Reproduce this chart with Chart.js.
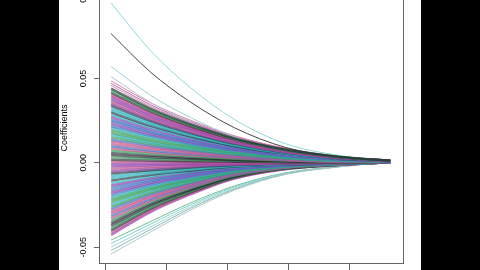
<!DOCTYPE html>
<html>
<head>
<meta charset="utf-8">
<script src="https://cdn.jsdelivr.net/npm/chart.js@4"></script>
<style>
  html, body { margin: 0; padding: 0; background: #000; width: 480px; height: 270px; overflow: hidden; }
  #frame { position: absolute; left: 59px; top: 0; width: 362px; height: 270px; background: #fff; overflow: hidden; }
  #box { position: absolute; left: 0; top: -20px; width: 362px; height: 323px; }
</style>
</head>
<body>
<div id="frame"><div id="box"><canvas id="grafico"></canvas></div></div>
<script>
const logLambda = [0.2, 1.5, 2.8, 4.25, 5.9, 7.7, 9.35];
const xTicks = [0, 2, 4, 6, 8];
const yTicks = [-0.05, 0, 0.05, 0.10];

// the few paths that stand apart above the band
const outerTop = [
  [0.0947, 0.0663, 0.0445, 0.0256, 0.0114, 0.0043, 0.0014],
  [0.0765, 0.0536, 0.0360, 0.0207, 0.0092, 0.0034, 0.0012],
  [0.0570, 0.0399, 0.0268, 0.0154, 0.0068, 0.0026, 0.0011],
  [0.0510, 0.0357, 0.0240, 0.0138, 0.0061, 0.0023, 0.0010],
  [0.0485, 0.0354, 0.0252, 0.0160, 0.0087, 0.0039, 0.0013],
  [0.0470, 0.0343, 0.0244, 0.0155, 0.0085, 0.0038, 0.0013],
  [0.0458, 0.0334, 0.0238, 0.0151, 0.0082, 0.0037, 0.0013]
];

// dense band, coefficients starting above zero
const densePos = [
  [0.0440, 0.0321, 0.0229, 0.0145, 0.0079, 0.0035, 0.0013],
  [0.0428, 0.0312, 0.0223, 0.0141, 0.0077, 0.0034, 0.0012],
  [0.0415, 0.0303, 0.0216, 0.0137, 0.0075, 0.0033, 0.0012],
  [0.0402, 0.0293, 0.0209, 0.0133, 0.0072, 0.0032, 0.0012],
  [0.0390, 0.0285, 0.0203, 0.0129, 0.0070, 0.0031, 0.0012],
  [0.0376, 0.0274, 0.0196, 0.0124, 0.0068, 0.0030, 0.0012],
  [0.0363, 0.0265, 0.0189, 0.0120, 0.0065, 0.0029, 0.0011],
  [0.0350, 0.0256, 0.0182, 0.0116, 0.0063, 0.0028, 0.0011],
  [0.0338, 0.0247, 0.0176, 0.0112, 0.0061, 0.0027, 0.0011],
  [0.0324, 0.0237, 0.0168, 0.0107, 0.0058, 0.0026, 0.0011],
  [0.0311, 0.0227, 0.0162, 0.0103, 0.0056, 0.0025, 0.0011],
  [0.0298, 0.0218, 0.0155, 0.0098, 0.0054, 0.0024, 0.0010],
  [0.0285, 0.0208, 0.0148, 0.0094, 0.0051, 0.0023, 0.0010],
  [0.0272, 0.0199, 0.0141, 0.0090, 0.0049, 0.0022, 0.0010],
  [0.0258, 0.0188, 0.0134, 0.0085, 0.0046, 0.0021, 0.0010],
  [0.0245, 0.0179, 0.0127, 0.0081, 0.0044, 0.0020, 0.0010],
  [0.0232, 0.0169, 0.0121, 0.0077, 0.0042, 0.0019, 0.0009],
  [0.0218, 0.0159, 0.0113, 0.0072, 0.0039, 0.0017, 0.0009],
  [0.0205, 0.0150, 0.0107, 0.0068, 0.0037, 0.0016, 0.0009],
  [0.0192, 0.0140, 0.0100, 0.0063, 0.0035, 0.0015, 0.0009],
  [0.0178, 0.0130, 0.0093, 0.0059, 0.0032, 0.0014, 0.0009],
  [0.0165, 0.0120, 0.0086, 0.0054, 0.0030, 0.0013, 0.0008],
  [0.0152, 0.0111, 0.0079, 0.0050, 0.0027, 0.0012, 0.0008],
  [0.0138, 0.0101, 0.0072, 0.0046, 0.0025, 0.0011, 0.0008],
  [0.0125, 0.0091, 0.0065, 0.0041, 0.0023, 0.0010, 0.0008],
  [0.0112, 0.0082, 0.0058, 0.0037, 0.0020, 0.0009, 0.0008],
  [0.0098, 0.0072, 0.0051, 0.0032, 0.0018, 0.0008, 0.0007],
  [0.0085, 0.0062, 0.0044, 0.0028, 0.0015, 0.0007, 0.0007],
  [0.0072, 0.0053, 0.0037, 0.0024, 0.0013, 0.0006, 0.0007],
  [0.0058, 0.0042, 0.0030, 0.0019, 0.0010, 0.0005, 0.0007],
  [0.0045, 0.0033, 0.0023, 0.0015, 0.0008, 0.0004, 0.0007],
  [0.0032, 0.0023, 0.0017, 0.0011, 0.0006, 0.0003, 0.0006],
  [0.0018, 0.0013, 0.0009, 0.0006, 0.0003, 0.0001, 0.0006],
  [0.0005, 0.0004, 0.0003, 0.0002, 0.0001, 0.0000, 0.0006]
];

// dense band, coefficients starting below zero
const denseNeg = [
  [-0.0008, -0.0005, -0.0004, -0.0002, -0.0001, 0.0000, 0.0006],
  [-0.0022, -0.0015, -0.0010, -0.0005, -0.0002, -0.0001, 0.0006],
  [-0.0036, -0.0024, -0.0016, -0.0008, -0.0003, -0.0001, 0.0006],
  [-0.0050, -0.0034, -0.0022, -0.0011, -0.0005, -0.0002, 0.0006],
  [-0.0064, -0.0044, -0.0028, -0.0014, -0.0006, -0.0002, 0.0005],
  [-0.0078, -0.0053, -0.0034, -0.0017, -0.0007, -0.0002, 0.0005],
  [-0.0092, -0.0063, -0.0040, -0.0020, -0.0008, -0.0003, 0.0005],
  [-0.0106, -0.0072, -0.0047, -0.0023, -0.0010, -0.0003, 0.0005],
  [-0.0120, -0.0082, -0.0053, -0.0026, -0.0011, -0.0004, 0.0005],
  [-0.0134, -0.0091, -0.0059, -0.0029, -0.0012, -0.0004, 0.0005],
  [-0.0148, -0.0101, -0.0065, -0.0033, -0.0013, -0.0004, 0.0005],
  [-0.0162, -0.0110, -0.0071, -0.0036, -0.0015, -0.0005, 0.0004],
  [-0.0176, -0.0120, -0.0077, -0.0039, -0.0016, -0.0005, 0.0004],
  [-0.0190, -0.0129, -0.0084, -0.0042, -0.0017, -0.0006, 0.0004],
  [-0.0204, -0.0139, -0.0090, -0.0045, -0.0018, -0.0006, 0.0004],
  [-0.0218, -0.0148, -0.0096, -0.0048, -0.0020, -0.0007, 0.0004],
  [-0.0232, -0.0158, -0.0102, -0.0051, -0.0021, -0.0007, 0.0004],
  [-0.0246, -0.0167, -0.0108, -0.0054, -0.0022, -0.0007, 0.0004],
  [-0.0260, -0.0177, -0.0114, -0.0057, -0.0023, -0.0008, 0.0003],
  [-0.0274, -0.0186, -0.0121, -0.0060, -0.0025, -0.0008, 0.0003],
  [-0.0288, -0.0196, -0.0127, -0.0063, -0.0026, -0.0009, 0.0003],
  [-0.0302, -0.0205, -0.0133, -0.0066, -0.0027, -0.0009, 0.0003],
  [-0.0316, -0.0215, -0.0139, -0.0070, -0.0028, -0.0009, 0.0003],
  [-0.0330, -0.0224, -0.0145, -0.0073, -0.0030, -0.0010, 0.0003],
  [-0.0344, -0.0234, -0.0151, -0.0076, -0.0031, -0.0010, 0.0003],
  [-0.0358, -0.0243, -0.0158, -0.0079, -0.0032, -0.0011, 0.0002],
  [-0.0372, -0.0253, -0.0164, -0.0082, -0.0033, -0.0011, 0.0002],
  [-0.0386, -0.0262, -0.0170, -0.0085, -0.0035, -0.0012, 0.0002],
  [-0.0400, -0.0272, -0.0176, -0.0088, -0.0036, -0.0012, 0.0002],
  [-0.0414, -0.0282, -0.0182, -0.0091, -0.0037, -0.0012, 0.0002],
  [-0.0428, -0.0291, -0.0188, -0.0094, -0.0039, -0.0013, 0.0002]
];

// the pale paths under the band
const outerBottom = [
  [-0.0540, -0.0410, -0.0281, -0.0162, -0.0070, -0.0024, 0.0006],
  [-0.0520, -0.0395, -0.0270, -0.0156, -0.0068, -0.0023, 0.0006],
  [-0.0500, -0.0380, -0.0260, -0.0150, -0.0065, -0.0023, 0.0006],
  [-0.0478, -0.0363, -0.0249, -0.0143, -0.0062, -0.0022, 0.0006],
  [-0.0458, -0.0348, -0.0238, -0.0137, -0.0060, -0.0021, 0.0006]
];

const palette = ['rgba(25,25,40,0.6)', 'rgba(200,85,140,0.7)', 'rgba(55,160,90,0.7)',
                 'rgba(70,115,195,0.7)', 'rgba(50,180,190,0.7)', 'rgba(145,70,175,0.72)'];
const topColors = ['#8fd8dc', '#444', '#9ccfd6', '#b0c8d0', '#d77fa0', '#b86bc0', '#d690b0'];
const bottomColors = ['#a9c7c9', '#8fb8a8', '#9fd5d8', '#7fcfd0', '#6fbf8f'];

function toPoints(path) {
  return path.map((v, i) => ({ x: logLambda[i], y: v }));
}

const datasets = [];
densePos.concat(denseNeg).forEach((p, i) => {
  datasets.push({ data: toPoints(p), borderColor: palette[(i * 7 + (i * i) % 5) % 6], borderWidth: 2.4 });
});
outerTop.forEach((p, i) => datasets.push({ data: toPoints(p), borderColor: topColors[i], borderWidth: 1 }));
outerBottom.forEach((p, i) => datasets.push({ data: toPoints(p), borderColor: bottomColors[i], borderWidth: 1 }));

const font = { family: 'Liberation Sans', size: 9 };

const boxPlugin = {
  id: 'box',
  afterDraw(chart) {
    const a = chart.chartArea, c = chart.ctx;
    c.save();
    c.strokeStyle = '#666';
    c.lineWidth = 1;
    c.strokeRect(Math.round(a.left) + 0.5, Math.round(a.top) + 0.5, Math.round(a.width), Math.round(a.height));
    c.restore();
  }
};

new Chart(document.getElementById('grafico').getContext('2d'), {
  type: 'line',
  data: { datasets },
  plugins: [boxPlugin],
  options: {
    responsive: true,
    maintainAspectRatio: false,
    animation: false,
    events: [],
    layout: { padding: { left: 0, right: 18, top: 13, bottom: 0 } },
    elements: {
      point: { radius: 0 },
      line: { cubicInterpolationMode: 'monotone', fill: false }
    },
    plugins: { legend: { display: false }, tooltip: { enabled: false } },
    scales: {
      x: {
        type: 'linear', min: -0.197, max: 9.77,
        afterBuildTicks: s => { s.ticks = xTicks.map(v => ({ value: v })); },
        afterFit: s => { s.height = 40; },
        grid: { display: true, drawOnChartArea: false, drawTicks: true, tickLength: 7, color: '#666' },
        border: { display: false },
        ticks: { color: '#000', font, padding: 2, maxRotation: 0 },
        title: { display: true, text: 'Log Lambda', color: '#000', font, padding: 0 }
      },
      y: {
        type: 'linear', min: -0.0594, max: 0.1006,
        afterBuildTicks: s => { s.ticks = yTicks.map(v => ({ value: v })); },
        afterFit: s => { s.width = 40; },
        grid: { display: true, drawOnChartArea: false, drawTicks: true, tickLength: 5, color: '#666' },
        border: { display: false },
        ticks: { color: '#000', font, padding: 0, minRotation: 90, maxRotation: 90, crossAlign: 'center',
                 callback: v => v.toFixed(2) },
        title: { display: true, text: 'Coefficients', color: '#000', font, padding: { top: 0, bottom: 0 } }
      }
    }
  }
});
</script>
</body>
</html>
